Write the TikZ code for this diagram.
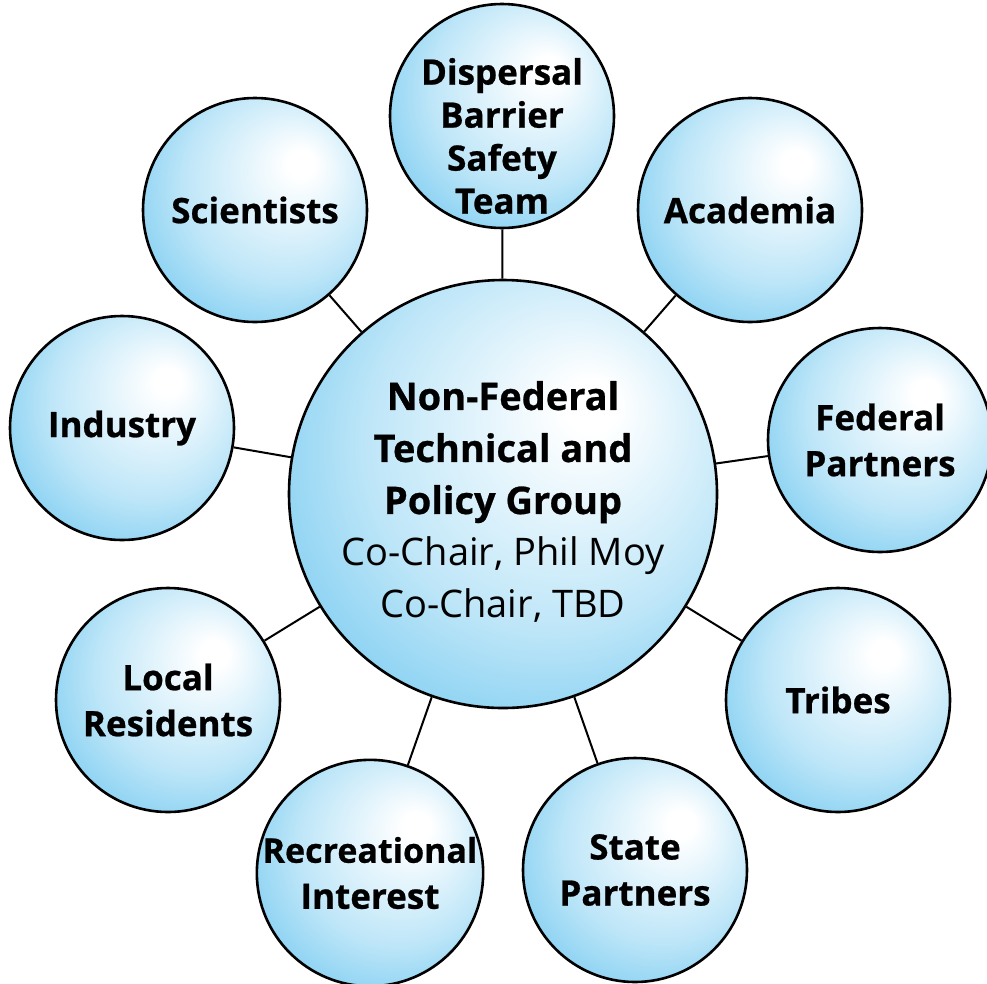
\documentclass[tikz,border=0pt]{standalone}
\usepackage{fontspec}
\setmainfont{Open Sans}[BoldFeatures={FakeBold=0.7}]
\definecolor{balledge}{RGB}{98,194,238}
\definecolor{ballmid}{RGB}{190,230,248}
\pgfdeclareradialshading{bluesphere}{\pgfpoint{11bp}{11bp}}{%
  color(0bp)=(white);
  color(3bp)=(white);
  color(22bp)=(ballmid);
  color(40bp)=(balledge);
  color(50bp)=(balledge)}
\newcommand{\cbold}{\fontsize{38}{52}\selectfont\bfseries}
\newcommand{\creg}{\fontsize{38}{52}\selectfont\mdseries}
\tikzset{
  ball/.style={circle, draw=black, line width=2.6pt, shading=bluesphere, inner sep=0pt,
    minimum size=224pt, align=center, font=\fontsize{35}{46}\selectfont\bfseries},
  bigball/.style={ball, minimum size=428pt},
  lbl/.style={align=center, inner sep=0pt, font=\fontsize{35}{43}\selectfont\bfseries},
  ctr/.style={align=center, inner sep=0pt, font=\fontsize{38}{52}\selectfont},
  conn/.style={draw=black, line width=2pt}
}
\begin{document}
\begin{tikzpicture}[x=1pt,y=-1pt]
\path[use as bounding box] (0,0) rectangle (987,983);
\node[bigball] (c) at (503,494) {};
\node[ball] (dbst) at (502,116) {};
\node[ball] (sci) at (255,210) {Scientists};
\node[ball] (aca) at (750,210) {Academia};
\node[ball] (ind) at (122,428) {Industry};
\node[ball] (fed) at (880,440) {Federal\\Partners};
\node[ball] (loc) at (168,700) {Local\\Residents};
\node[ball] (tri) at (838,700) {Tribes};
\node[ball] (rec) at (370,873) {\fontsize{34}{46}\selectfont Recreational\\Interest};
\node[ball] (sta) at (635,870) {State\\Partners};
\foreach \n in {dbst,sci,aca,ind,fed,loc,tri,rec,sta}
  \draw[conn] (c) -- (\n);
\node[lbl] (dbsttext) at (502,136) {Dispersal\\Barrier\\Safety\\Team};
\node[ctr] (ctext) at (503,502)
  {\cbold Non-Federal\\\cbold Technical and\\\cbold Policy Group\\\creg Co-Chair, Phil Moy\\\creg Co-Chair, TBD};
\end{tikzpicture}
\end{document}
